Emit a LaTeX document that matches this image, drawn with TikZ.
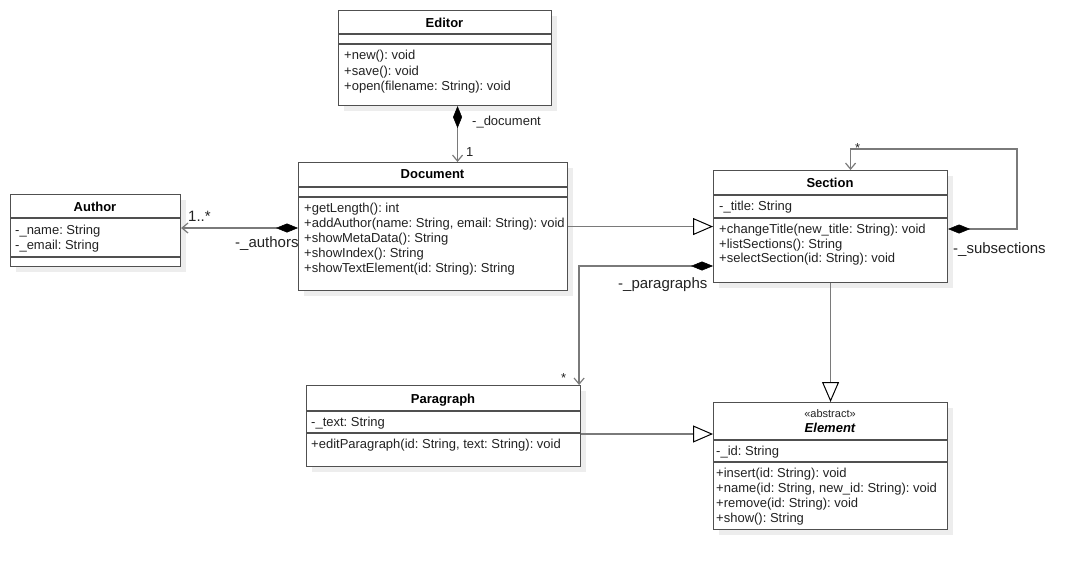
\documentclass[tikz,border=0pt]{standalone}
\usepackage{fontspec}
\setmainfont{Liberation Sans}
\usetikzlibrary{arrows.meta,shadows}
\frenchspacing
\definecolor{boxc}{HTML}{505050}
\definecolor{linec}{HTML}{7A7A7A}
\definecolor{textc}{HTML}{222222}
\definecolor{shadowc}{HTML}{EDEDED}
\tikzset{
  cls/.style={draw=boxc, line width=1.1pt, fill=white, anchor=north west, inner sep=0pt,
    drop shadow={fill=shadowc, opacity=1, shadow xshift=5pt, shadow yshift=-5pt}},
  sepline/.style={draw=boxc, line width=1.1pt},
  txt/.style={anchor=base west, inner sep=0pt, text=textc, font=\frenchspacing\fontsize{13}{15}\selectfont},
  ttl/.style={anchor=base, inner sep=0pt, text=black, font=\bfseries\fontsize{13}{15}\selectfont},
  lbl/.style={anchor=base west, inner sep=0pt, text=textc, font=\fontsize{15}{17}\selectfont},
  slbl/.style={anchor=base west, inner sep=0pt, text=textc, font=\fontsize{13}{15}\selectfont},
  conn/.style={draw=linec, line width=1.3pt},
  openhead/.tip={Straight Barb[length=6pt, width=10pt, line width=1.2pt]},
  diam/.tip={Turned Square[length=22pt, width=9pt, fill=black, black, line width=0.5pt]},
  tri/.tip={Triangle[open, length=20pt, width=17pt, fill=white, black, line width=1pt]},
}
\begin{document}
\begin{tikzpicture}[x=1pt,y=-1pt]
\useasboundingbox (0,0) rectangle (1084,570);
% ---------- class boxes ----------
\node[cls, minimum width=213pt, minimum height=95pt] (editor) at (338,10) {};
\node[cls, minimum width=269pt, minimum height=128pt] (document) at (298,162) {};
\node[cls, minimum width=170pt, minimum height=72pt] (author) at (10,194) {};
\node[cls, minimum width=234pt, minimum height=112pt] (section) at (713,170) {};
\node[cls, minimum width=274pt, minimum height=81pt] (paragraph) at (306,385) {};
\node[cls, minimum width=234pt, minimum height=127pt] (element) at (713,402) {};
% separators
\draw[sepline] ([yshift=-24pt]editor.north west) -- ([yshift=-24pt]editor.north east);
\draw[sepline] ([yshift=-34pt]editor.north west) -- ([yshift=-34pt]editor.north east);
\draw[sepline] ([yshift=-25pt]document.north west) -- ([yshift=-25pt]document.north east);
\draw[sepline] ([yshift=-35pt]document.north west) -- ([yshift=-35pt]document.north east);
\draw[sepline] ([yshift=-24pt]author.north west) -- ([yshift=-24pt]author.north east);
\draw[sepline] ([yshift=-63pt]author.north west) -- ([yshift=-63pt]author.north east);
\draw[sepline] ([yshift=-25pt]section.north west) -- ([yshift=-25pt]section.north east);
\draw[sepline] ([yshift=-48pt]section.north west) -- ([yshift=-48pt]section.north east);
\draw[sepline] ([yshift=-26pt]paragraph.north west) -- ([yshift=-26pt]paragraph.north east);
\draw[sepline] ([yshift=-48pt]paragraph.north west) -- ([yshift=-48pt]paragraph.north east);
\draw[sepline] ([yshift=-38pt]element.north west) -- ([yshift=-38pt]element.north east);
\draw[sepline] ([yshift=-60pt]element.north west) -- ([yshift=-60pt]element.north east);
% ---------- texts ----------
% Editor
\node[ttl] (editorT) at (444.5,27.5) {Editor};
\node[txt] (editorM1) at (344,59.5) {+new(): void};
\node[txt] (editorM2) at (344,75) {+save(): void};
\node[txt] (editorM3) at (344,90.5) {+open(filename: String): void};
% Document
\node[ttl] (documentT) at (432.5,178.5) {Document};
\node[txt] (documentM1) at (304,212) {+getLength(): int};
\node[txt] (documentM2) at (304,227) {+addAuthor(name: String, email: String): void};
\node[txt] (documentM3) at (304,242) {+showMetaData(): String};
\node[txt] (documentM4) at (304,257) {+showIndex(): String};
\node[txt] (documentM5) at (304,272) {+showTextElement(id: String): String};
% Author
\node[ttl] (authorT) at (95,211) {Author};
\node[txt] (authorA1) at (15,234.5) {-\_name: String};
\node[txt] (authorA2) at (15,249) {-\_email: String};
% Section
\node[ttl] (sectionT) at (830,187) {Section};
\node[txt] (sectionA1) at (719,210.5) {-\_title: String};
\node[txt] (sectionM1) at (719,233.5) {+changeTitle(new\_title: String): void};
\node[txt] (sectionM2) at (719,248) {+listSections(): String};
\node[txt] (sectionM3) at (719,262.5) {+selectSection(id: String): void};
% Paragraph
\node[ttl] (paragraphT) at (443,403) {Paragraph};
\node[txt] (paragraphA1) at (311,426) {-\_text: String};
\node[txt] (paragraphM1) at (311,448) {+editParagraph(id: String, text: String): void};
% Element
\node[anchor=base, inner sep=0pt, text=textc, font=\fontsize{11}{13}\selectfont] (elementS) at (830,417) {«abstract»};
\node[ttl, font=\bfseries\itshape\fontsize{13}{15}\selectfont] (elementT) at (830,432) {Element};
\node[txt] (elementA1) at (716,455.5) {-\_id: String};
\node[txt] (elementM1) at (716,477) {+insert(id: String): void};
\node[txt] (elementM2) at (716,492) {+name(id: String, new\_id: String): void};
\node[txt] (elementM3) at (716,507) {+remove(id: String): void};
\node[txt] (elementM4) at (716,522) {+show(): String};
% ---------- helper coordinates ----------
\coordinate (yAuth) at (0,228);
\coordinate (ySub) at (0,229);
\coordinate (yPar) at (0,266);
\coordinate (yPE) at (0,434);
% ---------- connectors ----------
% Editor <>-- Document
\draw[conn, {diam}-{openhead}] ([xshift=12.5pt]editor.south) -- ([xshift=12.5pt]editor.south |- document.north);
% Document <>-- Author
\draw[conn, {diam}-{openhead}] (document.west |- yAuth) -- (author.east |- yAuth);
% Document --|> Section
\draw[conn, -{tri}] (document.east) -- (document.east -| section.west);
% Section self composition
\draw[conn, {diam}-{openhead}] (section.east |- ySub) -| ++(69,-80) -| ([xshift=20pt]section.north);
% Section <>-- Paragraph
\draw[conn, {diam}-{openhead}] (section.west |- yPar) -| ([xshift=-2pt]paragraph.north east);
% Section --|> Element
\draw[conn, -{tri}] (section.south) -- (element.north);
% Paragraph --|> Element
\draw[conn, -{tri}] (paragraph.east |- yPE) -- (element.west |- yPE);
% ---------- connector labels ----------
\node[slbl] (lDoc) at (472,125.5) {-\_document};
\node[slbl] (lOne) at (466,156.5) {1};
\node[lbl] (lOneStar) at (188,221.5) {1..*};
\node[lbl] (lAuthors) at (235,247) {-\_authors};
\node[lbl] (lPars) at (618,288.5) {-\_paragraphs};
\node[slbl] (lParStar) at (561,382) {*};
\node[lbl] (lSubs) at (953,253.5) {-\_subsections};
\node[slbl] (lSubStar) at (855,152) {*};
\end{tikzpicture}
\end{document}
